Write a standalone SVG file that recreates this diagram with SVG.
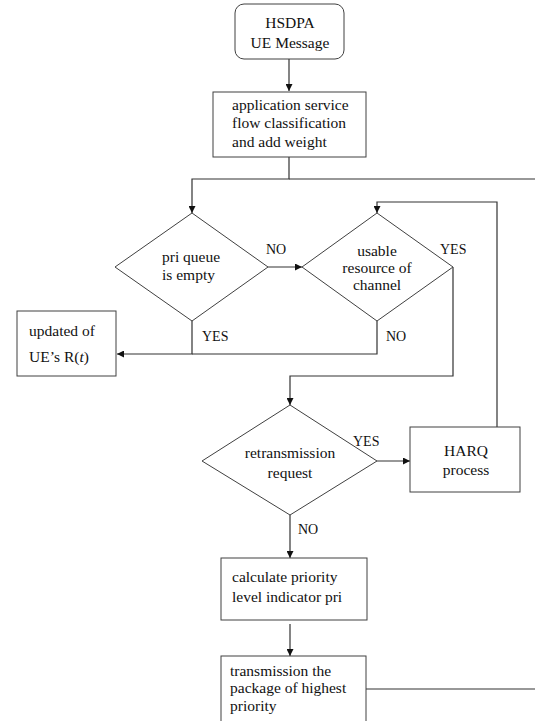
<svg xmlns="http://www.w3.org/2000/svg" width="535" height="721" viewBox="0 0 535 721">
<style>
.n{fill:#fff;stroke:#404040;stroke-width:1}
.c{fill:none;stroke:#333;stroke-width:1.2}
text{font-family:'Liberation Serif','DejaVu Serif',serif;font-size:15.5px;fill:#111}
.l{font-size:14px}
.m{text-anchor:middle}
</style>
<defs>
<marker id="ah" viewBox="0 0 10 10" refX="10" refY="5" markerWidth="7" markerHeight="7" markerUnits="userSpaceOnUse" orient="auto">
<path d="M0,0 L10,5 L0,10 z" fill="#111"/>
</marker>
</defs>
<rect width="535" height="721" fill="#fff"/>
<g id="connectors" font-family="Liberation Serif, serif">
<line class="c" x1="289" y1="59" x2="289" y2="91" marker-end="url(#ah)"/>
<path class="c" d="M289,157 V179 H192 V213" marker-end="url(#ah)"/>
<line class="c" x1="289" y1="179" x2="535" y2="179"/>
<line class="c" x1="268" y1="267" x2="302" y2="267" marker-end="url(#ah)"/>
<path class="c" d="M192,321 V354 H117" marker-end="url(#ah)"/>
<path class="c" d="M377,321 V354 H192"/>
<path class="c" d="M453,267 V376 H290 V405" marker-end="url(#ah)"/>
<line class="c" x1="377" y1="461" x2="410" y2="461" marker-end="url(#ah)"/>
<path class="c" d="M497,427 V202 H377 V213" marker-end="url(#ah)"/>
<line class="c" x1="290" y1="515" x2="290" y2="558" marker-end="url(#ah)"/>
<line class="c" x1="290" y1="624" x2="290" y2="656" marker-end="url(#ah)"/>
<line class="c" x1="366" y1="689" x2="535" y2="689"/>
<text class="l" x="266" y="254">NO</text>
<text class="l" x="440" y="254">YES</text>
<text class="l" x="202" y="341">YES</text>
<text class="l" x="386" y="341">NO</text>
<text class="l" x="353" y="446">YES</text>
<text class="l" x="298" y="534">NO</text>
</g>
<g id="start">
<rect class="n" x="235" y="4" width="109" height="55" rx="9"/>
<text class="m" x="290" y="28">HSDPA</text>
<text class="m" x="290" y="48">UE Message</text>
</g>
<g id="classify">
<rect class="n" x="213" y="92" width="153" height="65"/>
<text x="232" y="110">application service</text>
<text x="232" y="128">flow classification</text>
<text x="232" y="147">and add weight</text>
</g>
<g id="queue">
<polygon class="n" points="192,213 268,267 192,321 115,267"/>
<text x="162" y="262">pri queue</text>
<text x="162" y="280">is empty</text>
</g>
<g id="resource">
<polygon class="n" points="377,213 453,267 377,321 302,267"/>
<text class="m" x="377" y="256">usable</text>
<text class="m" x="377" y="273">resource of</text>
<text class="m" x="377" y="290">channel</text>
</g>
<g id="update">
<rect class="n" x="17" y="311" width="99" height="65"/>
<text x="29" y="336">updated of</text>
<text x="29" y="362">UE’s R(<tspan font-style="italic">t</tspan>)</text>
</g>
<g id="retrans">
<polygon class="n" points="290,405 377,461 290,515 202,461"/>
<text class="m" x="290" y="458">retransmission</text>
<text class="m" x="290" y="478">request</text>
</g>
<g id="harq">
<rect class="n" x="410" y="427" width="110" height="65"/>
<text class="m" x="466" y="456">HARQ</text>
<text class="m" x="466" y="475">process</text>
</g>
<g id="calc">
<rect class="n" x="221" y="558" width="146" height="62"/>
<text x="232" y="582">calculate priority</text>
<text x="232" y="602">level indicator pri</text>
</g>
<g id="transmit">
<rect class="n" x="221" y="656" width="145" height="75"/>
<text x="230" y="676">transmission the</text>
<text x="230" y="693">package of highest</text>
<text x="230" y="711">priority</text>
</g>
</svg>
